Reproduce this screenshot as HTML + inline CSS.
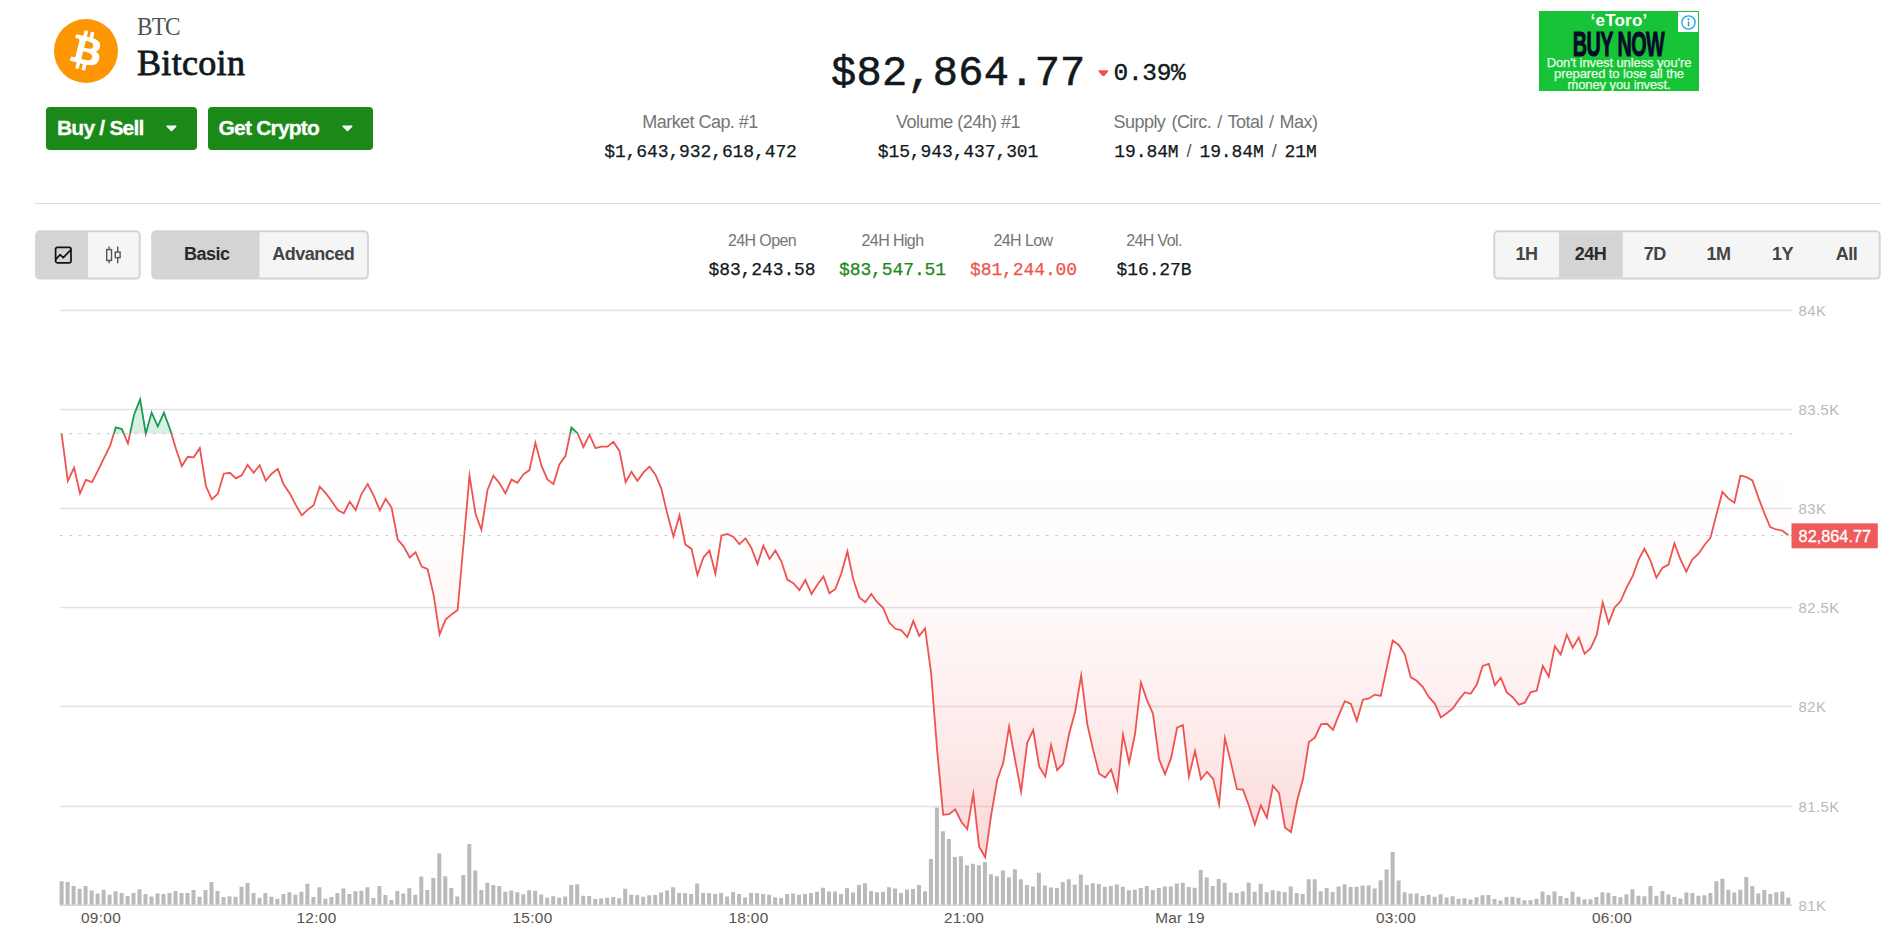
<!DOCTYPE html>
<html lang="en"><head><meta charset="utf-8"><title>Bitcoin (BTC) price</title>
<style>
*{box-sizing:border-box;margin:0;padding:0}
html,body{width:1900px;height:948px;background:#fff;overflow:hidden}
body{position:relative;font-family:"Liberation Sans",sans-serif;color:#12191d}
.abs{position:absolute;white-space:nowrap;line-height:1}
.mono{font-family:"Liberation Mono",monospace}
.serif{font-family:"Liberation Serif",serif}
.chart{position:absolute;left:0;top:0}
.btn{position:absolute;top:107px;height:42.5px;background:#1a8917;border-radius:4px;color:#fff;font-weight:bold;font-size:21px;letter-spacing:-0.8px}
.btn span{position:absolute;top:9.500px;white-space:nowrap;line-height:1;-webkit-text-stroke:0.3px #fff}
.btn svg{position:absolute;top:18.200px}
.lab{color:#757575;font-size:18px;letter-spacing:-0.55px;transform:translateX(-50%)}
.val{font-size:18px;transform:translateX(-50%);letter-spacing:-0.1px;-webkit-text-stroke:0.25px currentColor}
.sl{font-family:"Liberation Sans",sans-serif;color:#555;margin:0 8px;line-height:0;-webkit-text-stroke:0}
.slab{color:#757575;font-size:16px;letter-spacing:-0.6px;transform:translateX(-50%)}
.sval{font-size:18px;transform:translateX(-50%);letter-spacing:-0.1px;-webkit-text-stroke:0.25px currentColor}
.tg{top:245px;font-size:18px;letter-spacing:-0.5px;transform:translateX(-50%)}
</style></head><body>
<svg class="chart" width="1900" height="948" viewBox="0 0 1900 948">
<defs>
<linearGradient id="gr" x1="0" y1="433.7" x2="0" y2="905" gradientUnits="userSpaceOnUse">
<stop offset="0.0000" stop-color="#ef5350" stop-opacity="0.0000"/><stop offset="0.0833" stop-color="#ef5350" stop-opacity="0.0020"/><stop offset="0.1667" stop-color="#ef5350" stop-opacity="0.0081"/><stop offset="0.2500" stop-color="#ef5350" stop-opacity="0.0181"/><stop offset="0.3333" stop-color="#ef5350" stop-opacity="0.0322"/><stop offset="0.4167" stop-color="#ef5350" stop-opacity="0.0503"/><stop offset="0.5000" stop-color="#ef5350" stop-opacity="0.0725"/><stop offset="0.5833" stop-color="#ef5350" stop-opacity="0.0987"/><stop offset="0.6667" stop-color="#ef5350" stop-opacity="0.1289"/><stop offset="0.7500" stop-color="#ef5350" stop-opacity="0.1631"/><stop offset="0.8333" stop-color="#ef5350" stop-opacity="0.2014"/><stop offset="0.9167" stop-color="#ef5350" stop-opacity="0.2437"/><stop offset="1.0000" stop-color="#ef5350" stop-opacity="0.2900"/>
</linearGradient>
<clipPath id="above"><rect x="0" y="0" width="1900" height="433.7"/></clipPath>
<clipPath id="below"><rect x="0" y="433.7" width="1900" height="600"/></clipPath>
</defs>
<g stroke="#e2e2e2" stroke-width="1.4"><line x1="60" x2="1792" y1="310.5" y2="310.5"/><line x1="60" x2="1792" y1="409.5" y2="409.5"/><line x1="60" x2="1792" y1="508.5" y2="508.5"/><line x1="60" x2="1792" y1="607.5" y2="607.5"/><line x1="60" x2="1792" y1="706.5" y2="706.5"/><line x1="60" x2="1792" y1="806.5" y2="806.5"/></g>
<path d="M59.6,905v-23.7h4v23.7zM65.6,905v-23h4v23zM71.6,905v-18.9h4v18.9zM77.6,905v-16.2h4v16.2zM83.6,905v-18.9h4v18.9zM89.6,905v-14.5h4v14.5zM95.6,905v-11.6h4v11.6zM101.6,905v-15.3h4v15.3zM107.6,905v-10.2h4v10.2zM113.6,905v-13.8h4v13.8zM119.6,905v-12.1h4v12.1zM125.6,905v-9h4v9zM131.5,905v-12.1h4v12.1zM137.5,905v-15.7h4v15.7zM143.5,905v-11.1h4v11.1zM149.5,905v-8.5h4v8.5zM155.5,905v-11.4h4v11.4zM161.5,905v-11.1h4v11.1zM167.5,905v-12.1h4v12.1zM173.5,905v-14h4v14zM179.5,905v-11.9h4v11.9zM185.5,905v-11.9h4v11.9zM191.5,905v-15h4v15zM197.5,905v-8.2h4v8.2zM203.5,905v-15h4v15zM209.5,905v-23h4v23zM215.5,905v-14h4v14zM221.5,905v-8h4v8zM227.5,905v-8.7h4v8.7zM233.5,905v-8.2h4v8.2zM239.5,905v-18.2h4v18.2zM245.5,905v-22h4v22zM251.5,905v-11.9h4v11.9zM257.5,905v-7.3h4v7.3zM263.4,905v-11.9h4v11.9zM269.4,905v-8.2h4v8.2zM275.4,905v-6.3h4v6.3zM281.4,905v-10.9h4v10.9zM287.4,905v-12.8h4v12.8zM293.4,905v-10.4h4v10.4zM299.4,905v-13.3h4v13.3zM305.4,905v-21.3h4v21.3zM311.4,905v-8h4v8zM317.4,905v-17.7h4v17.7zM323.4,905v-6.3h4v6.3zM329.4,905v-8h4v8zM335.4,905v-11.9h4v11.9zM341.4,905v-16.5h4v16.5zM347.4,905v-10.9h4v10.9zM353.4,905v-13.8h4v13.8zM359.4,905v-14.3h4v14.3zM365.4,905v-17.7h4v17.7zM371.4,905v-7h4v7zM377.4,905v-18.9h4v18.9zM383.4,905v-9.9h4v9.9zM389.4,905v-5.1h4v5.1zM395.3,905v-14h4v14zM401.3,905v-11.4h4v11.4zM407.3,905v-16.7h4v16.7zM413.3,905v-10.2h4v10.2zM419.3,905v-28.6h4v28.6zM425.3,905v-15h4v15zM431.3,905v-26.9h4v26.9zM437.3,905v-51.6h4v51.6zM443.3,905v-28.8h4v28.8zM449.3,905v-16.9h4v16.9zM455.3,905v-8.5h4v8.5zM461.3,905v-30h4v30zM467.3,905v-61h4v61zM473.3,905v-34.6h4v34.6zM479.3,905v-15h4v15zM485.3,905v-22.3h4v22.3zM491.3,905v-20.1h4v20.1zM497.3,905v-18.9h4v18.9zM503.3,905v-13.3h4v13.3zM509.3,905v-14.5h4v14.5zM515.3,905v-12.8h4v12.8zM521.3,905v-10.7h4v10.7zM527.2,905v-14.8h4v14.8zM533.2,905v-14.3h4v14.3zM539.2,905v-10.4h4v10.4zM545.2,905v-7.3h4v7.3zM551.2,905v-8.7h4v8.7zM557.2,905v-7.3h4v7.3zM563.2,905v-8.5h4v8.5zM569.2,905v-19.9h4v19.9zM575.2,905v-20.8h4v20.8zM581.2,905v-9.2h4v9.2zM587.2,905v-9h4v9zM593.2,905v-6.1h4v6.1zM599.2,905v-6.5h4v6.5zM605.2,905v-7.3h4v7.3zM611.2,905v-8h4v8zM617.2,905v-6.8h4v6.8zM623.2,905v-16.2h4v16.2zM629.2,905v-10.2h4v10.2zM635.2,905v-9.9h4v9.9zM641.2,905v-8.2h4v8.2zM647.2,905v-9.7h4v9.7zM653.2,905v-9.9h4v9.9zM659.1,905v-12.6h4v12.6zM665.1,905v-14.5h4v14.5zM671.1,905v-17.7h4v17.7zM677.1,905v-11.9h4v11.9zM683.1,905v-11.9h4v11.9zM689.1,905v-11.1h4v11.1zM695.1,905v-21.5h4v21.5zM701.1,905v-12.1h4v12.1zM707.1,905v-12.1h4v12.1zM713.1,905v-10.9h4v10.9zM719.1,905v-12.1h4v12.1zM725.1,905v-8.5h4v8.5zM731.1,905v-13.1h4v13.1zM737.1,905v-10.9h4v10.9zM743.1,905v-7.5h4v7.5zM749.1,905v-12.1h4v12.1zM755.1,905v-11.9h4v11.9zM761.1,905v-10.9h4v10.9zM767.1,905v-10.2h4v10.2zM773.1,905v-7.7h4v7.7zM779.1,905v-7h4v7zM785.1,905v-11.1h4v11.1zM791.1,905v-11.6h4v11.6zM797,905v-10.2h4v10.2zM803,905v-10.9h4v10.9zM809,905v-11.9h4v11.9zM815,905v-13.3h4v13.3zM821,905v-17.2h4v17.2zM827,905v-13.6h4v13.6zM833,905v-13.6h4v13.6zM839,905v-11.1h4v11.1zM845,905v-16.9h4v16.9zM851,905v-12.6h4v12.6zM857,905v-19.9h4v19.9zM863,905v-21.8h4v21.8zM869,905v-14h4v14zM875,905v-12.8h4v12.8zM881,905v-13.3h4v13.3zM887,905v-17.7h4v17.7zM893,905v-16.5h4v16.5zM899,905v-12.1h4v12.1zM905,905v-15.5h4v15.5zM911,905v-16h4v16zM917,905v-20.1h4v20.1zM923,905v-13.8h4v13.8zM928.9,905v-46h4v46zM934.9,905v-97.6h4v97.6zM940.9,905v-73.8h4v73.8zM946.9,905v-66.1h4v66.1zM952.9,905v-47.9h4v47.9zM958.9,905v-48.7h4v48.7zM964.9,905v-39.7h4v39.7zM970.9,905v-41.2h4v41.2zM976.9,905v-39.7h4v39.7zM982.9,905v-43.1h4v43.1zM988.9,905v-30.8h4v30.8zM994.9,905v-28.8h4v28.8zM1000.9,905v-34.6h4v34.6zM1006.9,905v-27.8h4v27.8zM1012.9,905v-35.8h4v35.8zM1018.9,905v-25.7h4v25.7zM1024.9,905v-20.1h4v20.1zM1030.9,905v-18.6h4v18.6zM1036.9,905v-32.2h4v32.2zM1042.9,905v-19.6h4v19.6zM1048.9,905v-17.4h4v17.4zM1054.9,905v-16.9h4v16.9zM1060.8,905v-23h4v23zM1066.8,905v-25.7h4v25.7zM1072.8,905v-20.3h4v20.3zM1078.8,905v-30.5h4v30.5zM1084.8,905v-19.9h4v19.9zM1090.8,905v-21.8h4v21.8zM1096.8,905v-21.1h4v21.1zM1102.8,905v-18.2h4v18.2zM1108.8,905v-18.9h4v18.9zM1114.8,905v-20.6h4v20.6zM1120.8,905v-18.2h4v18.2zM1126.8,905v-14.8h4v14.8zM1132.8,905v-15.3h4v15.3zM1138.8,905v-16.9h4v16.9zM1144.8,905v-19.1h4v19.1zM1150.8,905v-15h4v15zM1156.8,905v-16.9h4v16.9zM1162.8,905v-18.6h4v18.6zM1168.8,905v-18.6h4v18.6zM1174.8,905v-21.5h4v21.5zM1180.8,905v-22.3h4v22.3zM1186.8,905v-17.9h4v17.9zM1192.7,905v-17.2h4v17.2zM1198.7,905v-34.9h4v34.9zM1204.7,905v-27.6h4v27.6zM1210.7,905v-18.9h4v18.9zM1216.7,905v-25.9h4v25.9zM1222.7,905v-22.3h4v22.3zM1228.7,905v-12.6h4v12.6zM1234.7,905v-12.1h4v12.1zM1240.7,905v-13.8h4v13.8zM1246.7,905v-22.5h4v22.5zM1252.7,905v-13.3h4v13.3zM1258.7,905v-21.3h4v21.3zM1264.7,905v-12.8h4v12.8zM1270.7,905v-14.8h4v14.8zM1276.7,905v-13.8h4v13.8zM1282.7,905v-12.8h4v12.8zM1288.7,905v-18.6h4v18.6zM1294.7,905v-12.1h4v12.1zM1300.7,905v-10.9h4v10.9zM1306.7,905v-25.7h4v25.7zM1312.7,905v-25.7h4v25.7zM1318.7,905v-13.8h4v13.8zM1324.7,905v-16.9h4v16.9zM1330.6,905v-13.1h4v13.1zM1336.6,905v-18.6h4v18.6zM1342.6,905v-20.8h4v20.8zM1348.6,905v-17.9h4v17.9zM1354.6,905v-18.2h4v18.2zM1360.6,905v-19.6h4v19.6zM1366.6,905v-19.6h4v19.6zM1372.6,905v-16.5h4v16.5zM1378.6,905v-24.7h4v24.7zM1384.6,905v-35.6h4v35.6zM1390.6,905v-53h4v53zM1396.6,905v-24.5h4v24.5zM1402.6,905v-12.8h4v12.8zM1408.6,905v-11.6h4v11.6zM1414.6,905v-11.4h4v11.4zM1420.6,905v-9h4v9zM1426.6,905v-10.2h4v10.2zM1432.6,905v-8.2h4v8.2zM1438.6,905v-10.7h4v10.7zM1444.6,905v-7.5h4v7.5zM1450.6,905v-8.7h4v8.7zM1456.6,905v-6.3h4v6.3zM1462.5,905v-6.8h4v6.8zM1468.5,905v-5.6h4v5.6zM1474.5,905v-7.7h4v7.7zM1480.5,905v-9.7h4v9.7zM1486.5,905v-9.9h4v9.9zM1492.5,905v-6.1h4v6.1zM1498.5,905v-4.6h4v4.6zM1504.5,905v-8h4v8zM1510.5,905v-8.2h4v8.2zM1516.5,905v-7.3h4v7.3zM1522.5,905v-4.8h4v4.8zM1528.5,905v-4.8h4v4.8zM1534.5,905v-6.3h4v6.3zM1540.5,905v-13.6h4v13.6zM1546.5,905v-9.9h4v9.9zM1552.5,905v-13.6h4v13.6zM1558.5,905v-9h4v9zM1564.5,905v-7h4v7zM1570.5,905v-13.3h4v13.3zM1576.5,905v-8.2h4v8.2zM1582.5,905v-5.8h4v5.8zM1588.5,905v-5.8h4v5.8zM1594.4,905v-8h4v8zM1600.4,905v-12.8h4v12.8zM1606.4,905v-12.3h4v12.3zM1612.4,905v-9h4v9zM1618.4,905v-7.7h4v7.7zM1624.4,905v-10.7h4v10.7zM1630.4,905v-15.7h4v15.7zM1636.4,905v-9.2h4v9.2zM1642.4,905v-8.7h4v8.7zM1648.4,905v-18.9h4v18.9zM1654.4,905v-9.2h4v9.2zM1660.4,905v-14h4v14zM1666.4,905v-10.4h4v10.4zM1672.4,905v-8h4v8zM1678.4,905v-6.5h4v6.5zM1684.4,905v-12.6h4v12.6zM1690.4,905v-12.1h4v12.1zM1696.4,905v-9.2h4v9.2zM1702.4,905v-9.7h4v9.7zM1708.4,905v-12.1h4v12.1zM1714.4,905v-23.7h4v23.7zM1720.4,905v-26.2h4v26.2zM1726.3,905v-15.3h4v15.3zM1732.3,905v-12.6h4v12.6zM1738.3,905v-15.3h4v15.3zM1744.3,905v-28.1h4v28.1zM1750.3,905v-18.9h4v18.9zM1756.3,905v-11.4h4v11.4zM1762.3,905v-15h4v15zM1768.3,905v-10.9h4v10.9zM1774.3,905v-12.8h4v12.8zM1780.3,905v-13.6h4v13.6zM1786.3,905v-7.5h4v7.5z" fill="#bababa"/>
<line x1="60" x2="1792" y1="905.3" y2="905.3" stroke="#d6d6d6" stroke-width="1.4"/>
<path d="M61.6,433.7 L67.8,480.8 L74.1,467.8 L80,493.4 L85.9,479.9 L92,482.1 L97.9,470.6 L104,458.1 L110,445.8 L115.8,427.4 L121.9,429.1 L127.9,443.6 L134,414.9 L140.1,399.4 L145.8,433.7 L151.6,412.6 L157.8,426.4 L163.9,412.6 L170,429 L175.9,448.7 L181.8,466.1 L187.8,456.8 L193.8,457.3 L199.8,448 L205.9,486 L211.8,499.3 L217.7,493.9 L223.8,473.7 L229.9,472.8 L235.8,478.4 L241.7,475.4 L247.6,464.9 L253.7,472.8 L259.7,465.2 L265.8,480.8 L271.7,473.7 L277.8,468.9 L283.7,484.6 L289.8,493.4 L295.7,504.9 L301.8,515.4 L307.7,509.6 L313.6,505.2 L319.7,486.7 L325.7,493.1 L331.8,501.2 L337.7,510 L343.8,513.3 L349.7,501.7 L355.7,510 L361.6,493.8 L367.7,484.1 L373.8,495.9 L379.8,510.3 L385.7,498.8 L391.6,507.8 L397.7,539.5 L403.8,546.6 L409.7,557.5 L415.6,552.3 L421.7,566.5 L427.6,569.2 L433.6,594.9 L439.6,634.4 L445.6,619.6 L451.6,614.4 L457.6,610.1 L463.6,543 L469.5,475.7 L475.5,513.7 L481.4,529.7 L487.5,490 L493.4,475.7 L499.5,483.3 L505.4,493.4 L511.5,479.6 L517.4,482.8 L523.5,474.3 L529.4,470.1 L535.4,442.8 L541.5,465.9 L547.4,479.4 L553.5,484.1 L559.4,464.4 L565.5,455.8 L571.4,427.6 L577.5,433.2 L583.4,447 L589.5,434.9 L595.5,448.2 L601.4,446.7 L607.5,446.7 L613.4,441.9 L619.5,450.9 L625.6,482.1 L631.5,471.8 L637.4,480.8 L643.5,472.4 L649.5,466.5 L655.5,474.6 L661.4,488.9 L667.3,513.8 L673.4,536.5 L679.5,515.4 L685.4,544.6 L691.5,548.9 L697.4,575 L703.5,557.3 L709.5,550.5 L715.4,573.7 L721.5,535.4 L727.4,534 L733.5,537 L739.4,544.1 L745.5,538.4 L751.4,548 L757.5,564.1 L763.4,545.8 L769.5,559 L775.4,550.5 L781.4,561.5 L787.3,579.6 L793.4,583.1 L799.5,590.2 L805.4,580.1 L811.5,594.1 L817.4,584.8 L823.5,576.4 L829.4,593.2 L835.4,588.9 L841.4,573.3 L847.4,551.4 L853.3,579.6 L859.3,597.4 L865.3,602.2 L871.3,594 L877.2,602.2 L883.2,608 L889.2,622.5 L895.3,628.8 L901.3,630.3 L907.3,637 L913.3,621.1 L919.2,635.9 L925.1,628.5 L931.1,673.2 L937.1,749.8 L943.2,814.8 L949.2,814.1 L955.2,809.4 L961.3,821.7 L967.3,829.2 L973.3,793.9 L979.1,846.8 L985.2,857.2 L991.2,814.8 L997.2,780 L1003.3,762.6 L1009.1,726.6 L1015.1,760 L1021.1,791.6 L1027.2,742.8 L1033.2,730.1 L1039.2,766.7 L1045.3,776.5 L1051.1,745.1 L1057.1,770.2 L1063.1,763.7 L1069.2,733.5 L1075.2,711.5 L1081.2,675.5 L1087.3,724.3 L1093.1,749.8 L1099.1,773.7 L1105.2,777.6 L1111.2,769.5 L1117.2,790.4 L1123,734.7 L1129.1,763 L1135.1,733.5 L1140.9,682.5 L1146.9,699.9 L1153,713.8 L1159,759.1 L1165,774.2 L1171.1,757.9 L1177.1,727.7 L1182.9,725 L1188.9,776.5 L1195,751 L1201,779.3 L1207,771.8 L1213.1,778.8 L1219.1,804.3 L1224.9,738.2 L1230.9,762.6 L1237,789.2 L1243,789.7 L1249,806 L1254.8,824.5 L1260.9,805.5 L1266.9,817.6 L1272.9,785.8 L1279,793.2 L1285,827.5 L1291,832.2 L1297.1,800.8 L1303.1,778.8 L1308.9,742.1 L1314.9,737.7 L1321,724.4 L1327,723.8 L1333,729.9 L1338.9,714.9 L1344.8,701.1 L1350.9,703.9 L1356.8,720.8 L1362.9,699.7 L1368.9,698.5 L1374.9,694.6 L1380.8,696 L1386.8,667.6 L1392.7,640.6 L1398.8,644.9 L1404.7,654.1 L1410.8,677.4 L1416.7,680.8 L1422.8,687 L1428.9,697.2 L1434.8,703.6 L1440.8,717.4 L1446.8,713.2 L1452.8,708.5 L1458.7,700 L1464.8,692.4 L1470.7,693.8 L1476.8,684.5 L1482.7,665.9 L1488.8,663.8 L1494.9,685.4 L1500.8,677.8 L1506.8,692.4 L1512.7,697.2 L1518.8,704.8 L1524.7,702.7 L1530.8,692.1 L1536.7,690.8 L1542.8,665.9 L1548.7,676.6 L1554.8,646.2 L1560.7,654.6 L1566.8,634.7 L1572.7,647.7 L1578.7,637.6 L1584.6,653.8 L1590.7,648.2 L1596.8,634.7 L1602.7,602.5 L1608.6,623.2 L1614.7,607.5 L1620.7,601 L1626.6,587.5 L1632.7,576.1 L1638.6,559.7 L1644.4,548.8 L1650.5,560.6 L1656.4,577.7 L1662.4,567.9 L1668.5,564.6 L1674.4,543.4 L1680.4,559.2 L1686.3,571.7 L1692.4,559.2 L1698.4,554 L1704.5,545 L1710.5,537.7 L1716.4,514.8 L1722.4,491.9 L1728.3,498.4 L1734.4,502.8 L1740.4,475.5 L1746.5,477.2 L1752.4,480.4 L1758.4,497.6 L1764.3,513.1 L1770.2,527 L1776.2,529.5 L1782.3,530.6 L1788.3,535.2 L1788.3,433.7 L61.6,433.7 Z" fill="url(#gr)" clip-path="url(#below)"/>
<path d="M61.6,433.7 L67.8,480.8 L74.1,467.8 L80,493.4 L85.9,479.9 L92,482.1 L97.9,470.6 L104,458.1 L110,445.8 L115.8,427.4 L121.9,429.1 L127.9,443.6 L134,414.9 L140.1,399.4 L145.8,433.7 L151.6,412.6 L157.8,426.4 L163.9,412.6 L170,429 L175.9,448.7 L181.8,466.1 L187.8,456.8 L193.8,457.3 L199.8,448 L205.9,486 L211.8,499.3 L217.7,493.9 L223.8,473.7 L229.9,472.8 L235.8,478.4 L241.7,475.4 L247.6,464.9 L253.7,472.8 L259.7,465.2 L265.8,480.8 L271.7,473.7 L277.8,468.9 L283.7,484.6 L289.8,493.4 L295.7,504.9 L301.8,515.4 L307.7,509.6 L313.6,505.2 L319.7,486.7 L325.7,493.1 L331.8,501.2 L337.7,510 L343.8,513.3 L349.7,501.7 L355.7,510 L361.6,493.8 L367.7,484.1 L373.8,495.9 L379.8,510.3 L385.7,498.8 L391.6,507.8 L397.7,539.5 L403.8,546.6 L409.7,557.5 L415.6,552.3 L421.7,566.5 L427.6,569.2 L433.6,594.9 L439.6,634.4 L445.6,619.6 L451.6,614.4 L457.6,610.1 L463.6,543 L469.5,475.7 L475.5,513.7 L481.4,529.7 L487.5,490 L493.4,475.7 L499.5,483.3 L505.4,493.4 L511.5,479.6 L517.4,482.8 L523.5,474.3 L529.4,470.1 L535.4,442.8 L541.5,465.9 L547.4,479.4 L553.5,484.1 L559.4,464.4 L565.5,455.8 L571.4,427.6 L577.5,433.2 L583.4,447 L589.5,434.9 L595.5,448.2 L601.4,446.7 L607.5,446.7 L613.4,441.9 L619.5,450.9 L625.6,482.1 L631.5,471.8 L637.4,480.8 L643.5,472.4 L649.5,466.5 L655.5,474.6 L661.4,488.9 L667.3,513.8 L673.4,536.5 L679.5,515.4 L685.4,544.6 L691.5,548.9 L697.4,575 L703.5,557.3 L709.5,550.5 L715.4,573.7 L721.5,535.4 L727.4,534 L733.5,537 L739.4,544.1 L745.5,538.4 L751.4,548 L757.5,564.1 L763.4,545.8 L769.5,559 L775.4,550.5 L781.4,561.5 L787.3,579.6 L793.4,583.1 L799.5,590.2 L805.4,580.1 L811.5,594.1 L817.4,584.8 L823.5,576.4 L829.4,593.2 L835.4,588.9 L841.4,573.3 L847.4,551.4 L853.3,579.6 L859.3,597.4 L865.3,602.2 L871.3,594 L877.2,602.2 L883.2,608 L889.2,622.5 L895.3,628.8 L901.3,630.3 L907.3,637 L913.3,621.1 L919.2,635.9 L925.1,628.5 L931.1,673.2 L937.1,749.8 L943.2,814.8 L949.2,814.1 L955.2,809.4 L961.3,821.7 L967.3,829.2 L973.3,793.9 L979.1,846.8 L985.2,857.2 L991.2,814.8 L997.2,780 L1003.3,762.6 L1009.1,726.6 L1015.1,760 L1021.1,791.6 L1027.2,742.8 L1033.2,730.1 L1039.2,766.7 L1045.3,776.5 L1051.1,745.1 L1057.1,770.2 L1063.1,763.7 L1069.2,733.5 L1075.2,711.5 L1081.2,675.5 L1087.3,724.3 L1093.1,749.8 L1099.1,773.7 L1105.2,777.6 L1111.2,769.5 L1117.2,790.4 L1123,734.7 L1129.1,763 L1135.1,733.5 L1140.9,682.5 L1146.9,699.9 L1153,713.8 L1159,759.1 L1165,774.2 L1171.1,757.9 L1177.1,727.7 L1182.9,725 L1188.9,776.5 L1195,751 L1201,779.3 L1207,771.8 L1213.1,778.8 L1219.1,804.3 L1224.9,738.2 L1230.9,762.6 L1237,789.2 L1243,789.7 L1249,806 L1254.8,824.5 L1260.9,805.5 L1266.9,817.6 L1272.9,785.8 L1279,793.2 L1285,827.5 L1291,832.2 L1297.1,800.8 L1303.1,778.8 L1308.9,742.1 L1314.9,737.7 L1321,724.4 L1327,723.8 L1333,729.9 L1338.9,714.9 L1344.8,701.1 L1350.9,703.9 L1356.8,720.8 L1362.9,699.7 L1368.9,698.5 L1374.9,694.6 L1380.8,696 L1386.8,667.6 L1392.7,640.6 L1398.8,644.9 L1404.7,654.1 L1410.8,677.4 L1416.7,680.8 L1422.8,687 L1428.9,697.2 L1434.8,703.6 L1440.8,717.4 L1446.8,713.2 L1452.8,708.5 L1458.7,700 L1464.8,692.4 L1470.7,693.8 L1476.8,684.5 L1482.7,665.9 L1488.8,663.8 L1494.9,685.4 L1500.8,677.8 L1506.8,692.4 L1512.7,697.2 L1518.8,704.8 L1524.7,702.7 L1530.8,692.1 L1536.7,690.8 L1542.8,665.9 L1548.7,676.6 L1554.8,646.2 L1560.7,654.6 L1566.8,634.7 L1572.7,647.7 L1578.7,637.6 L1584.6,653.8 L1590.7,648.2 L1596.8,634.7 L1602.7,602.5 L1608.6,623.2 L1614.7,607.5 L1620.7,601 L1626.6,587.5 L1632.7,576.1 L1638.6,559.7 L1644.4,548.8 L1650.5,560.6 L1656.4,577.7 L1662.4,567.9 L1668.5,564.6 L1674.4,543.4 L1680.4,559.2 L1686.3,571.7 L1692.4,559.2 L1698.4,554 L1704.5,545 L1710.5,537.7 L1716.4,514.8 L1722.4,491.9 L1728.3,498.4 L1734.4,502.8 L1740.4,475.5 L1746.5,477.2 L1752.4,480.4 L1758.4,497.6 L1764.3,513.1 L1770.2,527 L1776.2,529.5 L1782.3,530.6 L1788.3,535.2 L1788.3,433.7 L61.6,433.7 Z" fill="#1a9b52" fill-opacity="0.16" clip-path="url(#above)"/>
<line x1="60" x2="1792" y1="433.7" y2="433.7" stroke="#c2c5c3" stroke-width="1" stroke-dasharray="2.7 6.6"/>
<line x1="60" x2="1792" y1="535.6" y2="535.6" stroke="#c2c5c3" stroke-width="1" stroke-dasharray="2.7 6.6"/>
<path d="M61.6,433.7 L67.8,480.8 L74.1,467.8 L80,493.4 L85.9,479.9 L92,482.1 L97.9,470.6 L104,458.1 L110,445.8 L115.8,427.4 L121.9,429.1 L127.9,443.6 L134,414.9 L140.1,399.4 L145.8,433.7 L151.6,412.6 L157.8,426.4 L163.9,412.6 L170,429 L175.9,448.7 L181.8,466.1 L187.8,456.8 L193.8,457.3 L199.8,448 L205.9,486 L211.8,499.3 L217.7,493.9 L223.8,473.7 L229.9,472.8 L235.8,478.4 L241.7,475.4 L247.6,464.9 L253.7,472.8 L259.7,465.2 L265.8,480.8 L271.7,473.7 L277.8,468.9 L283.7,484.6 L289.8,493.4 L295.7,504.9 L301.8,515.4 L307.7,509.6 L313.6,505.2 L319.7,486.7 L325.7,493.1 L331.8,501.2 L337.7,510 L343.8,513.3 L349.7,501.7 L355.7,510 L361.6,493.8 L367.7,484.1 L373.8,495.9 L379.8,510.3 L385.7,498.8 L391.6,507.8 L397.7,539.5 L403.8,546.6 L409.7,557.5 L415.6,552.3 L421.7,566.5 L427.6,569.2 L433.6,594.9 L439.6,634.4 L445.6,619.6 L451.6,614.4 L457.6,610.1 L463.6,543 L469.5,475.7 L475.5,513.7 L481.4,529.7 L487.5,490 L493.4,475.7 L499.5,483.3 L505.4,493.4 L511.5,479.6 L517.4,482.8 L523.5,474.3 L529.4,470.1 L535.4,442.8 L541.5,465.9 L547.4,479.4 L553.5,484.1 L559.4,464.4 L565.5,455.8 L571.4,427.6 L577.5,433.2 L583.4,447 L589.5,434.9 L595.5,448.2 L601.4,446.7 L607.5,446.7 L613.4,441.9 L619.5,450.9 L625.6,482.1 L631.5,471.8 L637.4,480.8 L643.5,472.4 L649.5,466.5 L655.5,474.6 L661.4,488.9 L667.3,513.8 L673.4,536.5 L679.5,515.4 L685.4,544.6 L691.5,548.9 L697.4,575 L703.5,557.3 L709.5,550.5 L715.4,573.7 L721.5,535.4 L727.4,534 L733.5,537 L739.4,544.1 L745.5,538.4 L751.4,548 L757.5,564.1 L763.4,545.8 L769.5,559 L775.4,550.5 L781.4,561.5 L787.3,579.6 L793.4,583.1 L799.5,590.2 L805.4,580.1 L811.5,594.1 L817.4,584.8 L823.5,576.4 L829.4,593.2 L835.4,588.9 L841.4,573.3 L847.4,551.4 L853.3,579.6 L859.3,597.4 L865.3,602.2 L871.3,594 L877.2,602.2 L883.2,608 L889.2,622.5 L895.3,628.8 L901.3,630.3 L907.3,637 L913.3,621.1 L919.2,635.9 L925.1,628.5 L931.1,673.2 L937.1,749.8 L943.2,814.8 L949.2,814.1 L955.2,809.4 L961.3,821.7 L967.3,829.2 L973.3,793.9 L979.1,846.8 L985.2,857.2 L991.2,814.8 L997.2,780 L1003.3,762.6 L1009.1,726.6 L1015.1,760 L1021.1,791.6 L1027.2,742.8 L1033.2,730.1 L1039.2,766.7 L1045.3,776.5 L1051.1,745.1 L1057.1,770.2 L1063.1,763.7 L1069.2,733.5 L1075.2,711.5 L1081.2,675.5 L1087.3,724.3 L1093.1,749.8 L1099.1,773.7 L1105.2,777.6 L1111.2,769.5 L1117.2,790.4 L1123,734.7 L1129.1,763 L1135.1,733.5 L1140.9,682.5 L1146.9,699.9 L1153,713.8 L1159,759.1 L1165,774.2 L1171.1,757.9 L1177.1,727.7 L1182.9,725 L1188.9,776.5 L1195,751 L1201,779.3 L1207,771.8 L1213.1,778.8 L1219.1,804.3 L1224.9,738.2 L1230.9,762.6 L1237,789.2 L1243,789.7 L1249,806 L1254.8,824.5 L1260.9,805.5 L1266.9,817.6 L1272.9,785.8 L1279,793.2 L1285,827.5 L1291,832.2 L1297.1,800.8 L1303.1,778.8 L1308.9,742.1 L1314.9,737.7 L1321,724.4 L1327,723.8 L1333,729.9 L1338.9,714.9 L1344.8,701.1 L1350.9,703.9 L1356.8,720.8 L1362.9,699.7 L1368.9,698.5 L1374.9,694.6 L1380.8,696 L1386.8,667.6 L1392.7,640.6 L1398.8,644.9 L1404.7,654.1 L1410.8,677.4 L1416.7,680.8 L1422.8,687 L1428.9,697.2 L1434.8,703.6 L1440.8,717.4 L1446.8,713.2 L1452.8,708.5 L1458.7,700 L1464.8,692.4 L1470.7,693.8 L1476.8,684.5 L1482.7,665.9 L1488.8,663.8 L1494.9,685.4 L1500.8,677.8 L1506.8,692.4 L1512.7,697.2 L1518.8,704.8 L1524.7,702.7 L1530.8,692.1 L1536.7,690.8 L1542.8,665.9 L1548.7,676.6 L1554.8,646.2 L1560.7,654.6 L1566.8,634.7 L1572.7,647.7 L1578.7,637.6 L1584.6,653.8 L1590.7,648.2 L1596.8,634.7 L1602.7,602.5 L1608.6,623.2 L1614.7,607.5 L1620.7,601 L1626.6,587.5 L1632.7,576.1 L1638.6,559.7 L1644.4,548.8 L1650.5,560.6 L1656.4,577.7 L1662.4,567.9 L1668.5,564.6 L1674.4,543.4 L1680.4,559.2 L1686.3,571.7 L1692.4,559.2 L1698.4,554 L1704.5,545 L1710.5,537.7 L1716.4,514.8 L1722.4,491.9 L1728.3,498.4 L1734.4,502.8 L1740.4,475.5 L1746.5,477.2 L1752.4,480.4 L1758.4,497.6 L1764.3,513.1 L1770.2,527 L1776.2,529.5 L1782.3,530.6 L1788.3,535.2" fill="none" stroke="#ef5350" stroke-width="1.8" stroke-linejoin="miter" stroke-miterlimit="10" clip-path="url(#below)"/>
<path d="M61.6,433.7 L67.8,480.8 L74.1,467.8 L80,493.4 L85.9,479.9 L92,482.1 L97.9,470.6 L104,458.1 L110,445.8 L115.8,427.4 L121.9,429.1 L127.9,443.6 L134,414.9 L140.1,399.4 L145.8,433.7 L151.6,412.6 L157.8,426.4 L163.9,412.6 L170,429 L175.9,448.7 L181.8,466.1 L187.8,456.8 L193.8,457.3 L199.8,448 L205.9,486 L211.8,499.3 L217.7,493.9 L223.8,473.7 L229.9,472.8 L235.8,478.4 L241.7,475.4 L247.6,464.9 L253.7,472.8 L259.7,465.2 L265.8,480.8 L271.7,473.7 L277.8,468.9 L283.7,484.6 L289.8,493.4 L295.7,504.9 L301.8,515.4 L307.7,509.6 L313.6,505.2 L319.7,486.7 L325.7,493.1 L331.8,501.2 L337.7,510 L343.8,513.3 L349.7,501.7 L355.7,510 L361.6,493.8 L367.7,484.1 L373.8,495.9 L379.8,510.3 L385.7,498.8 L391.6,507.8 L397.7,539.5 L403.8,546.6 L409.7,557.5 L415.6,552.3 L421.7,566.5 L427.6,569.2 L433.6,594.9 L439.6,634.4 L445.6,619.6 L451.6,614.4 L457.6,610.1 L463.6,543 L469.5,475.7 L475.5,513.7 L481.4,529.7 L487.5,490 L493.4,475.7 L499.5,483.3 L505.4,493.4 L511.5,479.6 L517.4,482.8 L523.5,474.3 L529.4,470.1 L535.4,442.8 L541.5,465.9 L547.4,479.4 L553.5,484.1 L559.4,464.4 L565.5,455.8 L571.4,427.6 L577.5,433.2 L583.4,447 L589.5,434.9 L595.5,448.2 L601.4,446.7 L607.5,446.7 L613.4,441.9 L619.5,450.9 L625.6,482.1 L631.5,471.8 L637.4,480.8 L643.5,472.4 L649.5,466.5 L655.5,474.6 L661.4,488.9 L667.3,513.8 L673.4,536.5 L679.5,515.4 L685.4,544.6 L691.5,548.9 L697.4,575 L703.5,557.3 L709.5,550.5 L715.4,573.7 L721.5,535.4 L727.4,534 L733.5,537 L739.4,544.1 L745.5,538.4 L751.4,548 L757.5,564.1 L763.4,545.8 L769.5,559 L775.4,550.5 L781.4,561.5 L787.3,579.6 L793.4,583.1 L799.5,590.2 L805.4,580.1 L811.5,594.1 L817.4,584.8 L823.5,576.4 L829.4,593.2 L835.4,588.9 L841.4,573.3 L847.4,551.4 L853.3,579.6 L859.3,597.4 L865.3,602.2 L871.3,594 L877.2,602.2 L883.2,608 L889.2,622.5 L895.3,628.8 L901.3,630.3 L907.3,637 L913.3,621.1 L919.2,635.9 L925.1,628.5 L931.1,673.2 L937.1,749.8 L943.2,814.8 L949.2,814.1 L955.2,809.4 L961.3,821.7 L967.3,829.2 L973.3,793.9 L979.1,846.8 L985.2,857.2 L991.2,814.8 L997.2,780 L1003.3,762.6 L1009.1,726.6 L1015.1,760 L1021.1,791.6 L1027.2,742.8 L1033.2,730.1 L1039.2,766.7 L1045.3,776.5 L1051.1,745.1 L1057.1,770.2 L1063.1,763.7 L1069.2,733.5 L1075.2,711.5 L1081.2,675.5 L1087.3,724.3 L1093.1,749.8 L1099.1,773.7 L1105.2,777.6 L1111.2,769.5 L1117.2,790.4 L1123,734.7 L1129.1,763 L1135.1,733.5 L1140.9,682.5 L1146.9,699.9 L1153,713.8 L1159,759.1 L1165,774.2 L1171.1,757.9 L1177.1,727.7 L1182.9,725 L1188.9,776.5 L1195,751 L1201,779.3 L1207,771.8 L1213.1,778.8 L1219.1,804.3 L1224.9,738.2 L1230.9,762.6 L1237,789.2 L1243,789.7 L1249,806 L1254.8,824.5 L1260.9,805.5 L1266.9,817.6 L1272.9,785.8 L1279,793.2 L1285,827.5 L1291,832.2 L1297.1,800.8 L1303.1,778.8 L1308.9,742.1 L1314.9,737.7 L1321,724.4 L1327,723.8 L1333,729.9 L1338.9,714.9 L1344.8,701.1 L1350.9,703.9 L1356.8,720.8 L1362.9,699.7 L1368.9,698.5 L1374.9,694.6 L1380.8,696 L1386.8,667.6 L1392.7,640.6 L1398.8,644.9 L1404.7,654.1 L1410.8,677.4 L1416.7,680.8 L1422.8,687 L1428.9,697.2 L1434.8,703.6 L1440.8,717.4 L1446.8,713.2 L1452.8,708.5 L1458.7,700 L1464.8,692.4 L1470.7,693.8 L1476.8,684.5 L1482.7,665.9 L1488.8,663.8 L1494.9,685.4 L1500.8,677.8 L1506.8,692.4 L1512.7,697.2 L1518.8,704.8 L1524.7,702.7 L1530.8,692.1 L1536.7,690.8 L1542.8,665.9 L1548.7,676.6 L1554.8,646.2 L1560.7,654.6 L1566.8,634.7 L1572.7,647.7 L1578.7,637.6 L1584.6,653.8 L1590.7,648.2 L1596.8,634.7 L1602.7,602.5 L1608.6,623.2 L1614.7,607.5 L1620.7,601 L1626.6,587.5 L1632.7,576.1 L1638.6,559.7 L1644.4,548.8 L1650.5,560.6 L1656.4,577.7 L1662.4,567.9 L1668.5,564.6 L1674.4,543.4 L1680.4,559.2 L1686.3,571.7 L1692.4,559.2 L1698.4,554 L1704.5,545 L1710.5,537.7 L1716.4,514.8 L1722.4,491.9 L1728.3,498.4 L1734.4,502.8 L1740.4,475.5 L1746.5,477.2 L1752.4,480.4 L1758.4,497.6 L1764.3,513.1 L1770.2,527 L1776.2,529.5 L1782.3,530.6 L1788.3,535.2" fill="none" stroke="#1a9b52" stroke-width="1.8" stroke-linejoin="miter" stroke-miterlimit="10" clip-path="url(#above)"/>
<g font-family="'Liberation Sans',sans-serif" font-size="14.9" letter-spacing="0.42" fill="#b9b9b9"><text x="1798.5" y="315.9">84K</text><text x="1798.5" y="414.9">83.5K</text><text x="1798.5" y="513.9">83K</text><text x="1798.5" y="612.9">82.5K</text><text x="1798.5" y="711.9">82K</text><text x="1798.5" y="811.9">81.5K</text><text x="1798.5" y="910.9">81K</text></g>
<g font-family="'Liberation Sans',sans-serif" font-size="15.4" letter-spacing="0.3" fill="#57524e"><text x="101" y="923.3" text-anchor="middle">09:00</text><text x="316.5" y="923.3" text-anchor="middle">12:00</text><text x="532.5" y="923.3" text-anchor="middle">15:00</text><text x="748.5" y="923.3" text-anchor="middle">18:00</text><text x="964" y="923.3" text-anchor="middle">21:00</text><text x="1180" y="923.3" text-anchor="middle">Mar 19</text><text x="1396" y="923.3" text-anchor="middle">03:00</text><text x="1612" y="923.3" text-anchor="middle">06:00</text></g>
<rect x="1791.5" y="523.3" width="86.3" height="25" fill="#ee5b5b"/>
<text x="1834.8" y="541.700" text-anchor="middle" font-family="'Liberation Sans',sans-serif" font-size="16.3" fill="#fff" stroke="#fff" stroke-width="0.3">82,864.77</text>
<g>
<rect x="35.1" y="230.2" width="105.600" height="49.400" rx="5" fill="#d4d4d4"/>
<path d="M88 232.200h47.700a3 3 0 0 1 3 3v39.400a3 3 0 0 1 -3 3h-47.700z" fill="#f5f5f5"/>
<rect x="151.2" y="230.2" width="217.700" height="49.400" rx="5" fill="#d4d4d4"/>
<path d="M259.500 232.200h104.400a3 3 0 0 1 3 3v39.400a3 3 0 0 1 -3 3h-104.400z" fill="#f5f5f5"/>
<rect x="1493.300" y="230.2" width="387.400" height="49.400" rx="5" fill="#d4d4d4"/>
<rect x="1495.300" y="232.200" width="383.400" height="45.400" rx="3" fill="#f5f5f5"/>
<rect x="1559.100" y="232.200" width="63.700" height="45.400" fill="#d4d4d4"/>
</g>
</svg>

<!-- header: coin -->
<svg class="abs" style="left:54px;top:18.8px" width="64" height="64" viewBox="0 0 64 64">
<circle cx="32" cy="32" r="32" fill="#fe9503"/>
<path fill="#fff" d="M46.11 27.44c.64-4.26-2.6-6.55-7.04-8.08l1.44-5.77-3.51-.88-1.4 5.62c-.92-.23-1.87-.45-2.81-.66l1.41-5.66-3.51-.88-1.44 5.77c-.76-.17-1.51-.35-2.24-.53v-.02l-4.84-1.21-.93 3.75s2.6.6 2.55.63c1.42.36 1.68 1.3 1.63 2.04l-1.64 6.58c.1.02.22.06.36.12l-.37-.09-2.3 9.21c-.17.43-.62 1.08-1.61.83.04.05-2.55-.64-2.55-.64l-1.74 4.02 4.57 1.14c.85.21 1.68.44 2.5.65l-1.45 5.83 3.5.88 1.44-5.77c.96.26 1.89.5 2.8.73l-1.44 5.75 3.51.88 1.45-5.83c5.99 1.13 10.49.68 12.38-4.74 1.53-4.36-.08-6.88-3.23-8.52 2.3-.53 4.03-2.04 4.49-5.16zm-8.02 11.25c-1.08 4.36-8.43 2-10.81 1.41l1.93-7.73c2.38.59 10.02 1.77 8.88 6.32zm1.09-11.31c-.99 3.97-7.1 1.95-9.08 1.46l1.75-7.01c1.98.49 8.36 1.41 7.33 5.55z"/>
</svg>
<div class="abs serif" style="left:137px;top:14px;font-size:25px;color:#505050;letter-spacing:-1px;transform:scaleX(.934);transform-origin:0 0">BTC</div>
<div class="abs serif" style="left:136.5px;top:46.200px;font-size:35px;color:#12191d;letter-spacing:0.3px;-webkit-text-stroke:0.8px #12191d;transform:scaleX(1.029);transform-origin:0 0">Bitcoin</div>

<div class="btn" style="left:46px;width:151px"><span style="left:11px">Buy / Sell</span>
<svg style="left:119.800px" width="11" height="7" viewBox="0 0 11 7"><path d="M1.2 0.6h8.6c.6 0 .9.7.5 1.1L6.1 6c-.3.3-.9.3-1.2 0L.7 1.7C.3 1.300.600.6 1.200.6z" fill="#fff"/></svg></div>
<div class="btn" style="left:208px;width:165px"><span style="left:10.5px">Get Crypto</span>
<svg style="left:133.500px" width="11" height="7" viewBox="0 0 11 7"><path d="M1.2 0.6h8.6c.6 0 .9.7.5 1.1L6.1 6c-.3.3-.9.3-1.2 0L.7 1.7C.3 1.300.600.6 1.200.6z" fill="#fff"/></svg></div>

<!-- price -->
<div class="abs mono" style="left:831px;top:53px;font-size:42px;letter-spacing:0.25px;color:#12191d;-webkit-text-stroke:0.6px #12191d">$82,864.77</div>
<svg class="abs" style="left:1097.600px;top:69.700px" width="10.700" height="6.800" viewBox="0 0 10 6" preserveAspectRatio="none"><path d="M1 .3h8c.6 0 .9.7.5 1.1L5.700 5.500c-.4.4-1 .4-1.400 0L.5 1.400C.100 1 .400.300 1 .3z" fill="#ef5350"/></svg>
<div class="abs mono" style="left:1113.5px;top:61.500px;font-size:24.500px;color:#12191d;letter-spacing:-0.3px;-webkit-text-stroke:0.4px #12191d">0.39%</div>

<div class="abs lab" style="left:700px;top:112.700px">Market Cap. #1</div>
<div class="abs val mono" style="left:700.5px;top:142.500px">$1,643,932,618,472</div>
<div class="abs lab" style="left:958px;top:112.700px">Volume (24h) #1</div>
<div class="abs val mono" style="left:958px;top:142.500px">$15,943,437,301</div>
<div class="abs lab" style="left:1215.5px;top:112.700px;word-spacing:1.700px">Supply (Circ. / Total / Max)</div>
<div class="abs val mono" style="left:1215.5px;top:142.500px">19.84M<span class="sl">/</span>19.84M<span class="sl">/</span>21M</div>

<!-- ad -->
<div class="abs" style="left:1539px;top:11px;width:160px;height:80px;background:#17c337;overflow:hidden;text-align:center">
 <div class="abs" style="left:0;width:160px;top:1px;font-size:17px;font-weight:bold;color:#fff;letter-spacing:0.2px">&#8216;eToro&#8217;</div>
 <div class="abs" style="left:0;width:160px;top:15px;font-size:35px;font-weight:bold;color:#0a0a2a;letter-spacing:-1px;margin-left:-1px;transform:scaleX(.565);-webkit-text-stroke:1px #0a0a2a">BUY NOW</div>
 <div class="abs" style="left:0;width:160px;top:47.300px;font-size:13px;line-height:10.900px;color:#e6fbe6;white-space:normal;letter-spacing:-0.1px;-webkit-text-stroke:0.25px #e6fbe6">Don't invest unless you're<br>prepared to lose all the<br>money you invest.</div>
 <div class="abs" style="right:1px;top:1px;width:20px;height:20px;background:#fff"></div>
 <svg class="abs" style="right:3.500px;top:3.500px" width="15" height="15" viewBox="0 0 15 15"><circle cx="7.5" cy="7.5" r="6.6" fill="none" stroke="#1aa3dd" stroke-width="1.3"/><rect x="6.800" y="6.300" width="1.500" height="5" fill="#1aa3dd"/><circle cx="7.5" cy="4.300" r="1" fill="#1aa3dd"/></svg>
</div>

<!-- divider -->
<div class="abs" style="left:35px;top:202.500px;width:1846px;height:1.5px;background:#dcdcdc"></div>

<!-- chart type toggle -->
<svg class="abs" style="left:53px;top:245px" width="20" height="20" viewBox="0 0 20 20" fill="none" stroke="#111" stroke-width="1.700" stroke-linejoin="round" stroke-linecap="round"><rect x="2.600" y="2.400" width="15.400" height="15.400" rx="1.800"/><path d="M2.800 14.400l4.200-4.700 3.200 3 7.600-7.800"/></svg>
<svg class="abs" style="left:104px;top:245px" width="20" height="20" viewBox="0 0 20 20" fill="none" stroke="#555" stroke-width="1.400"><rect x="2.700" y="4.600" width="4.800" height="10.800"/><path d="M5.100 1.500v3M5.100 15.400v2.800M13.700 1.500v5.500M13.700 12.600v5.600"/><rect x="11.300" y="7.100" width="4.800" height="5.500"/></svg>

<b class="abs tg" style="left:206.800px;color:#2a2a2a">Basic</b><b class="abs tg" style="left:313.200px;color:#444">Advanced</b>

<!-- 24h stats -->
<div class="abs slab" style="left:762px;top:232.500px">24H Open</div>
<div class="abs sval mono" style="left:762px;top:260.500px">$83,243.58</div>
<div class="abs slab" style="left:892.500px;top:232.500px">24H High</div>
<div class="abs sval mono" style="left:892.500px;top:260.500px;color:#1a8917">$83,547.51</div>
<div class="abs slab" style="left:1023px;top:232.500px">24H Low</div>
<div class="abs sval mono" style="left:1023.500px;top:260.500px;color:#ef5350">$81,244.00</div>
<div class="abs slab" style="left:1154px;top:232.500px">24H Vol.</div>
<div class="abs sval mono" style="left:1154px;top:260.500px">$16.27B</div>

<!-- range toggle -->
<b class="abs tg" style="left:1526.400px;color:#444">1H</b><b class="abs tg" style="left:1590.600px;color:#2a2a2a">24H</b><b class="abs tg" style="left:1654.700px;color:#444">7D</b><b class="abs tg" style="left:1718.600px;color:#444">1M</b><b class="abs tg" style="left:1782.500px;color:#444">1Y</b><b class="abs tg" style="left:1846.600px;color:#444">All</b>

</body></html>
